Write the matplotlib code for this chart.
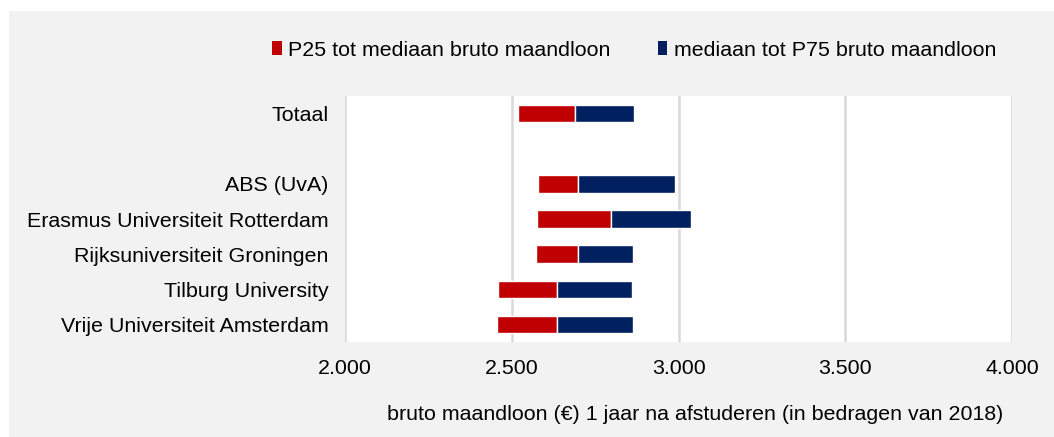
import matplotlib.pyplot as plt
from matplotlib.patches import Rectangle

plt.rcParams['font.family'] = ['Liberation Sans', 'DejaVu Sans']

# rows top to bottom, '' is the empty spacer row
labels = ['Totaal', '', 'ABS (UvA)', 'Erasmus Universiteit Rotterdam',
          'Rijksuniversiteit Groningen', 'Tilburg University',
          'Vrije Universiteit Amsterdam']
p25 = [2519, None, 2579, 2574, 2572, 2457, 2455]
median = [2688, None, 2699, 2798, 2699, 2636, 2636]
p75 = [2867, None, 2988, 3036, 2864, 2859, 2864]
ticks = [2000, 2500, 3000, 3500, 4000]
tick_labels = ['2.000', '2.500', '3.000', '3.500', '4.000']

red = '#c00000'
navy = '#002060'
grey_bg = '#f2f2f2'
fs = 15.4

fig = plt.figure(figsize=(10.54, 4.37), dpi=100, facecolor='white')
fig.patches.append(Rectangle((9 / 1054, -0.1), 1.1, 1.1 - 11 / 437, transform=fig.transFigure,
                             facecolor=grey_bg, edgecolor='none', zorder=-5))
ax = fig.add_axes([345.3 / 1054, 1 - 342 / 437, (1012 - 345.3) / 1054, (342 - 96) / 437])
ax.set_zorder(2)
ax.set_facecolor('white')

ys = list(range(len(labels)))
for y, a, m, b in zip(ys, p25, median, p75):
    if a is None:
        continue
    ax.barh(y, m - a, left=a, height=0.5, color=red, edgecolor='white', linewidth=1, zorder=3)
    ax.barh(y, b - m, left=m, height=0.5, color=navy, edgecolor='white', linewidth=1, zorder=3)

ax.set_xlim(2000, 4000)
ax.set_ylim(len(labels) - 0.5, -0.5)
ax.set_yticks(ys)
ax.set_yticklabels(labels, fontsize=fs)
ax.set_xticks(ticks)
ax.set_xticklabels(tick_labels, fontsize=fs)
ax.tick_params(length=0, pad=12)
ax.tick_params(axis='y', pad=12)
ax.xaxis.grid(True, color='#d9d9d9', linewidth=1.8, zorder=0)
ax.set_axisbelow(True)
for s in ax.spines.values():
    s.set_visible(False)

ax.set_xlabel('bruto maandloon (€) 1 jaar na afstuderen (in bedragen van 2018)',
              fontsize=fs, labelpad=14)
ax.xaxis.set_label_coords(0.525, -0.255)

handles = [Rectangle((0, 0), 1, 1, facecolor=red), Rectangle((0, 0), 1, 1, facecolor=navy)]
fig.legend(handles, ['P25 tot mediaan bruto maandloon', 'mediaan tot P75 bruto maandloon'],
           loc='center', bbox_to_anchor=(634 / 1054, 1 - 50 / 437), ncol=2, frameon=False,
           fontsize=fs, handlelength=0.45, handleheight=0.6, handletextpad=0.3, columnspacing=2.2)

fig.savefig('out.png', dpi=100, facecolor='white')
